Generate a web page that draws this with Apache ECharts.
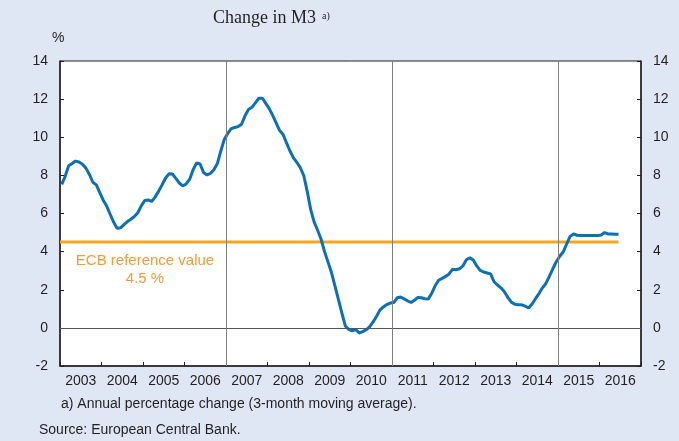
<!DOCTYPE html>
<html>
<head>
<meta charset="utf-8">
<script src="https://cdn.jsdelivr.net/npm/echarts@6/dist/echarts.min.js"></script>
<style>
html,body{margin:0;padding:0;background:#dfe7f4;}
#chart{width:679px;height:441px;}
</style>
</head>
<body>
<div id="chart"></div>
<script>
// ---- data ----
const titleText = 'Change in M3';
const titleNote = 'a)';
const unitLabel = '%';
const footnote = 'a) Annual percentage change (3-month moving average).';
const sourceText = 'Source: European Central Bank.';
const refLabel = 'ECB reference value';
const refValueLabel = '4.5 %';
const yearLabels = ['2003','2004','2005','2006','2007','2008','2009','2010','2011','2012','2013','2014','2015','2016'];
const yTicks = [-2, 0, 2, 4, 6, 8, 10, 12, 14];
const startYear = 2003; // first monthly observation: January 2003
const breakYears = [2007, 2011, 2015];
const refValue = 4.5;
// M3 annual growth (3-month moving average), monthly, Jan 2003 - Jun 2016
const m3Growth = [
  7.53, 7.95, 8.50, 8.62, 8.75, 8.70, 8.58, 8.38, 8.05, 7.64, 7.50, 7.10,
  6.70, 6.39, 5.96, 5.55, 5.22, 5.25, 5.42, 5.58, 5.70, 5.84, 6.04, 6.40,
  6.68, 6.71, 6.63, 6.86, 7.16, 7.50, 7.85, 8.08, 8.07, 7.84, 7.60, 7.45,
  7.55, 7.80, 8.30, 8.65, 8.60, 8.15, 8.02, 8.10, 8.30, 8.62, 9.28, 9.88,
  10.20, 10.45, 10.51, 10.56, 10.68, 11.13, 11.45, 11.57, 11.80, 12.05, 12.05, 11.78,
  11.50, 11.15, 10.75, 10.35, 10.15, 9.70, 9.28, 8.92, 8.68, 8.40, 7.98, 7.15,
  6.20, 5.55, 5.12, 4.65, 4.00, 3.45, 2.90, 2.20, 1.50, 0.78, 0.10, -0.08,
  -0.15, -0.08, -0.27, -0.20, -0.10, 0.05, 0.30, 0.60, 0.93, 1.10, 1.22, 1.30,
  1.33, 1.58, 1.62, 1.52, 1.42, 1.33, 1.45, 1.60, 1.58, 1.53, 1.52, 1.82,
  2.22, 2.50, 2.60, 2.70, 2.83, 3.07, 3.05, 3.10, 3.25, 3.57, 3.68, 3.56,
  3.25, 3.02, 2.93, 2.88, 2.83, 2.42, 2.25, 2.10, 1.90, 1.60, 1.35, 1.24,
  1.21, 1.21, 1.14, 1.04, 1.25, 1.53, 1.80, 2.10, 2.33, 2.70, 3.10, 3.47,
  3.76, 3.98, 4.40, 4.80, 4.93, 4.86, 4.84, 4.84, 4.84, 4.84, 4.84, 4.84,
  4.87, 5.00, 4.93, 4.92, 4.91, 4.91
];

// ---- build ----
const lineData = m3Growth.map((v, i) => [startYear + (i + 0.5) / 12, v]);
const lastX = lineData[lineData.length - 1][0];
const refData = [[startYear, refValue], [lastX, refValue]];

const textColor = '#231f20';
const font = 'Liberation Sans, Arial, sans-serif';
const chart = echarts.init(document.getElementById('chart'), null, {renderer: 'canvas'});

const yAxisBase = {
  type: 'value', min: yTicks[0], max: yTicks[yTicks.length - 1], interval: 2,
  axisLine: {show: true, lineStyle: {color: textColor, width: 1.5}},
  axisTick: {show: true, inside: true, length: 4, lineStyle: {color: textColor}},
  splitLine: {show: false},
  axisLabel: {color: textColor, fontFamily: font, fontSize: 14, margin: 12}
};

chart.setOption({
  backgroundColor: '#dfe7f4',
  animation: false,
  grid: {left: 60, right: 38, top: 61, bottom: 75, show: true, backgroundColor: '#ffffff', borderColor: textColor, borderWidth: 1},
  xAxis: [
    {type: 'value', min: startYear, max: startYear + yearLabels.length, interval: 1, position: 'bottom',
     axisLine: {show: true, onZero: false, lineStyle: {color: textColor, width: 1.5}},
     axisTick: {show: true, inside: true, length: 4, lineStyle: {color: textColor}},
     axisLabel: {show: false}, splitLine: {show: false}},
    {type: 'category', data: yearLabels, boundaryGap: true, position: 'bottom', offset: 0,
     axisLine: {show: false}, axisTick: {show: false}, splitLine: {show: false},
     axisLabel: {color: textColor, fontFamily: font, fontSize: 14, margin: 8, interval: 0}}
  ],
  yAxis: [
    Object.assign({position: 'left'}, yAxisBase),
    Object.assign({position: 'right'}, yAxisBase)
  ],
  series: [
    {
      name: refLabel, type: 'line', xAxisIndex: 0, yAxisIndex: 0, data: refData,
      symbol: 'none', z: 2,
      lineStyle: {color: '#f7a51e', width: 3},
      markLine: {
        silent: true, symbol: 'none', label: {show: false},
        data: [
          {yAxis: 0, lineStyle: {color: '#555555', width: 1, type: 'solid'}},
          ...breakYears.map(y => ({xAxis: y, lineStyle: {color: '#808080', width: 1, type: 'solid'}}))
        ]
      }
    },
    {
      name: 'M3', type: 'line', xAxisIndex: 0, yAxisIndex: 0, data: lineData,
      symbol: 'none', smooth: false, z: 3,
      lineStyle: {color: '#0a70b8', width: 3}
    }
  ],
  graphic: [
    {type: 'text', left: 213, top: 9, style: {text: titleText, font: '18px "Liberation Serif", "Times New Roman", serif', fill: textColor}},
    {type: 'text', left: 322, top: 11, style: {text: titleNote, font: '10px "Liberation Serif", "Times New Roman", serif', fill: textColor}},
    {type: 'text', left: 52, top: 31, style: {text: unitLabel, font: '14px ' + font, fill: textColor}},
    {type: 'text', left: 61, top: 397, style: {text: footnote, font: '14px ' + font, fill: textColor}},
    {type: 'text', left: 39, top: 423, style: {text: sourceText, font: '14px ' + font, fill: textColor}},
    {type: 'text', style: {x: 145, y: 261, text: refLabel, textAlign: 'center', textVerticalAlign: 'middle', font: '15px ' + font, fill: '#f59a38'}},
    {type: 'text', style: {x: 145, y: 279, text: refValueLabel, textAlign: 'center', textVerticalAlign: 'middle', font: '15px ' + font, fill: '#f59a38'}}
  ]
});
</script>
</body>
</html>
